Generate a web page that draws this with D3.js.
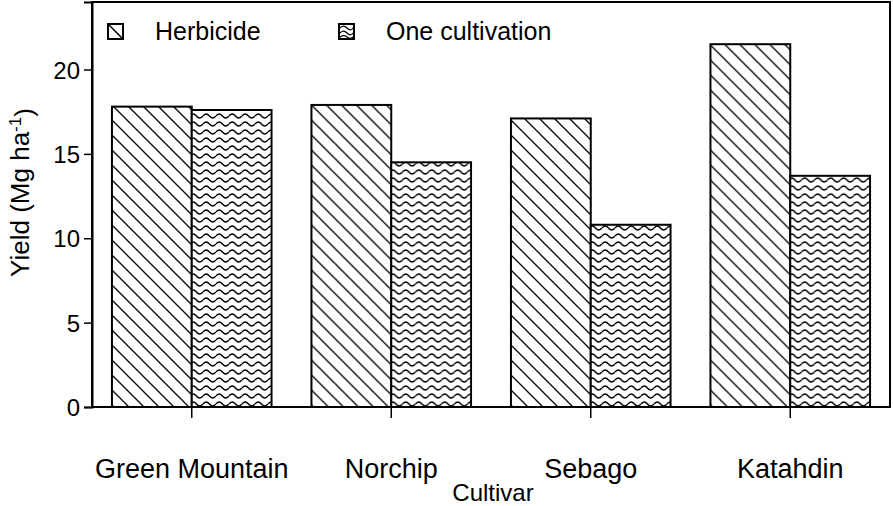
<!DOCTYPE html>
<html>
<head>
<meta charset="utf-8">
<script src="https://cdn.jsdelivr.net/npm/d3@7"></script>
<style>
  html, body { margin: 0; padding: 0; background: #fff; }
  svg { display: block; }
  text { font-family: "Liberation Sans", Arial, Helvetica, sans-serif; fill: #000; }
</style>
</head>
<body>
<svg id="chart" width="893" height="506"></svg>
<script>
// Potato tuber yield by cultivar under two weed-control treatments
const cultivars = ["Green Mountain", "Norchip", "Sebago", "Katahdin"];
const treatments = ["Herbicide", "One cultivation"];
const herbicide = [17.8, 17.9, 17.1, 21.5];
const oneCultivation = [17.6, 14.5, 10.8, 13.7];
const yTicks = [0, 5, 10, 15, 20];

const svg = d3.select("#chart");
const margin = { left: 92, right: 3, top: 2, bottom: 99 };
const W = 893, H = 506;
const x0 = margin.left, x1 = W - margin.right;
const yBase = H - margin.bottom;

// Fill patterns: diagonal hatch and wavy lines
const defs = svg.append("defs");
const hatch = defs.append("pattern")
  .attr("id", "hatch").attr("patternUnits", "userSpaceOnUse")
  .attr("width", 15).attr("height", 15);
hatch.append("rect").attr("width", 15).attr("height", 15).attr("fill", "#fff");
hatch.append("path")
  .attr("d", "M-1,-1 L16,16 M-8,7 L1,16 M7,-8 L16,1")
  .attr("stroke", "#000").attr("stroke-width", 1.3).attr("fill", "none");

const wave = defs.append("pattern")
  .attr("id", "wave").attr("patternUnits", "userSpaceOnUse")
  .attr("width", 13).attr("height", 8);
wave.append("rect").attr("width", 13).attr("height", 8).attr("fill", "#fff");
wave.append("path")
  .attr("d", "M0,4 Q3.25,0 6.5,4 T13,4")
  .attr("stroke", "#000").attr("stroke-width", 1.3).attr("fill", "none");

// Legend swatch patterns: one large diagonal, and a few broad waves
const hatchKey = defs.append("pattern")
  .attr("id", "hatchKey").attr("patternUnits", "objectBoundingBox")
  .attr("width", 1).attr("height", 1);
hatchKey.append("rect").attr("width", 15).attr("height", 15).attr("fill", "#fff");
hatchKey.append("path").attr("d", "M0,0 L15,15")
  .attr("stroke", "#000").attr("stroke-width", 1.5);
const waveKey = defs.append("pattern")
  .attr("id", "waveKey").attr("patternUnits", "objectBoundingBox")
  .attr("width", 1).attr("height", 1);
waveKey.append("rect").attr("width", 15).attr("height", 15).attr("fill", "#fff");
waveKey.append("path")
  .attr("d", "M0,5 Q4,0 8,4 T15,3 M0,10 Q4,5 8,9 T15,8 M0,14 Q4,10 8,13 T15,12")
  .attr("stroke", "#000").attr("stroke-width", 1.2).attr("fill", "none");

const fills = { "Herbicide": "url(#hatch)", "One cultivation": "url(#wave)" };
const keyFills = { "Herbicide": "url(#hatchKey)", "One cultivation": "url(#waveKey)" };

// Scales
const x = d3.scaleBand().domain(cultivars).range([x0, x1])
  .paddingInner(0.2).paddingOuter(0.1);
const xs = d3.scaleBand().domain(treatments).range([0, x.bandwidth()]);
const y = d3.scaleLinear().domain([0, 24]).range([yBase, margin.top]);

const rows = cultivars.map((c, i) => ({
  cultivar: c,
  values: [
    { key: treatments[0], value: herbicide[i] },
    { key: treatments[1], value: oneCultivation[i] }
  ]
}));

// Bars
const groups = svg.append("g").selectAll("g").data(rows).join("g")
  .attr("transform", d => `translate(${x(d.cultivar)},0)`);
groups.selectAll("rect").data(d => d.values).join("rect")
  .attr("x", d => xs(d.key))
  .attr("y", d => y(d.value))
  .attr("width", xs.bandwidth())
  .attr("height", d => yBase - y(d.value))
  .attr("fill", d => fills[d.key])
  .attr("stroke", "#000").attr("stroke-width", 2);

// Frame
svg.append("rect")
  .attr("x", x0).attr("y", margin.top)
  .attr("width", x1 - x0).attr("height", yBase - margin.top)
  .attr("fill", "none").attr("stroke", "#000").attr("stroke-width", 2);

// Y axis
const yAxis = svg.append("g").attr("transform", `translate(${x0},0)`)
  .call(d3.axisLeft(y).tickValues(yTicks).tickSize(8).tickPadding(4).tickFormat(d3.format("d")));
yAxis.select(".domain").attr("stroke-width", 2);
yAxis.selectAll(".tick line").attr("stroke-width", 1.5);
yAxis.selectAll(".tick text").style("font-size", "24px").attr("dy", "0.36em");

// X axis
const xAxis = svg.append("g").attr("transform", `translate(0,${yBase})`)
  .call(d3.axisBottom(x).tickSize(11).tickPadding(41));
xAxis.select(".domain").remove();
xAxis.selectAll(".tick line").attr("stroke-width", 1.5);
xAxis.selectAll(".tick text").style("font-size", "27px");

// Axis titles
svg.append("text")
  .attr("x", (x0 + x1) / 2 + 2).attr("y", 501)
  .attr("text-anchor", "middle").style("font-size", "24px")
  .text("Cultivar");

const yTitle = svg.append("text")
  .attr("transform", `translate(29,${(yBase + margin.top) / 2 - 12}) rotate(-90)`)
  .attr("text-anchor", "middle").style("font-size", "26px");
yTitle.append("tspan").text("Yield (Mg ha");
yTitle.append("tspan").attr("dy", "-0.45em").style("font-size", "17px").text("-1");
yTitle.append("tspan").attr("dy", "0.45em").text(")");

// Legend
const legendX = [108, 339];
const legend = svg.append("g").selectAll("g").data(treatments).join("g")
  .attr("transform", (d, i) => `translate(${legendX[i]},24)`);
legend.append("rect")
  .attr("width", 15).attr("height", 15)
  .attr("fill", d => keyFills[d]).attr("stroke", "#000").attr("stroke-width", 2);
legend.append("text")
  .attr("x", 47).attr("y", 16)
  .style("font-size", "25px")
  .text(d => d);
</script>
</body>
</html>
